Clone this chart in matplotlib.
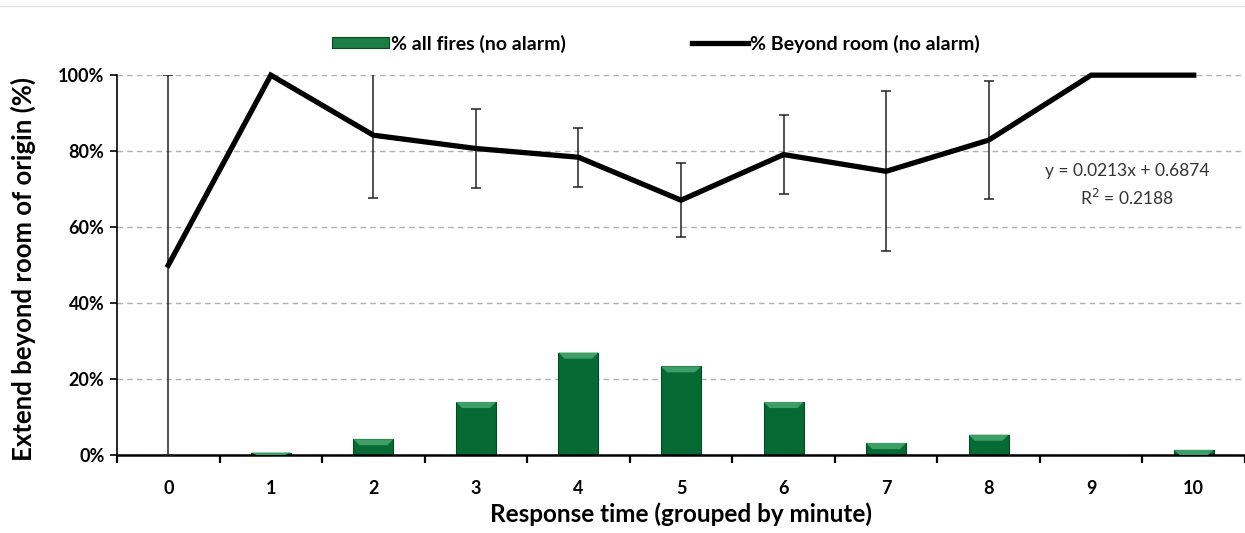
import matplotlib
matplotlib.use("Agg")
import matplotlib.pyplot as plt
from matplotlib.patches import Polygon, Patch
from matplotlib.lines import Line2D
from matplotlib.ticker import PercentFormatter, FixedLocator
import numpy as np

# data (percent)
minutes = list(range(11))
minute_labels = [str(m) for m in minutes]
all_fires = [0, 0.7, 4.2, 14.0, 27.0, 23.4, 14.0, 3.2, 5.4, 0, 1.4]
beyond_room = [50, 100, 84.2, 80.7, 78.4, 67.1, 79.1, 74.7, 82.9, 100, 100]
beyond_err = [50, 0, 16.4, 10.3, 7.8, 9.7, 10.5, 21.1, 15.6, 0, 0]
trend_text = "y = 0.0213x + 0.6874\nR$^2$ = 0.2188"

plt.rcParams['font.family'] = ['Lato', 'DejaVu Sans']

fig = plt.figure(figsize=(12.45, 5.33), dpi=100)
ax = fig.add_axes([0.094, 0.146, 0.906, 0.713])

x = np.array(minutes)
bars_v = np.array(all_fires) / 100
line_v = np.array(beyond_room) / 100
err_v = np.array(beyond_err) / 100

# bars with a light bevel on top
bw = 0.39
ax.bar(x, bars_v, width=bw, color='#066a35', edgecolor='#024a22', linewidth=0.8, zorder=2)
for xi, h in zip(x, bars_v):
    if h <= 0:
        continue
    d = min(h, 0.016)
    inset = 0.06
    poly = Polygon([[xi - bw / 2, h], [xi + bw / 2, h],
                    [xi + bw / 2 - inset, h - d], [xi - bw / 2 + inset, h - d]],
                   closed=True, facecolor='#3d9e66', edgecolor='none', zorder=3)
    ax.add_patch(poly)

# line with error bars
ax.plot(x, line_v, color='black', lw=3.8, solid_joinstyle='miter', zorder=5, clip_on=False)
has_err = err_v > 0
ax.errorbar(x[has_err], line_v[has_err], yerr=err_v[has_err], fmt='none',
            ecolor='#222222', elinewidth=1.1, capsize=3.8, capthick=1.1, zorder=4)

ax.set_xlim(-0.5, 10.5)
ax.set_ylim(0, 1.0)
ax.yaxis.set_major_locator(FixedLocator([0, 0.2, 0.4, 0.6, 0.8, 1.0]))
ax.yaxis.set_major_formatter(PercentFormatter(1.0, decimals=0))
ax.set_xticks(x)
ax.set_xticklabels(minute_labels)
ax.xaxis.set_minor_locator(FixedLocator(np.arange(-0.5, 10.6, 1)))
ax.tick_params(axis='x', which='major', length=0, pad=18, labelsize=13)
ax.tick_params(axis='x', which='minor', length=6, width=1.6, direction='out', color='black')
ax.tick_params(axis='y', which='major', length=5, width=1.2, labelsize=13, pad=4)
for lab in ax.get_xticklabels() + ax.get_yticklabels():
    lab.set_fontweight('bold')

ax.grid(axis='y', color='#b0b0b0', linestyle=(0, (4, 3)), linewidth=1.0, zorder=0)
ax.set_axisbelow(True)
for s in ['top', 'right']:
    ax.spines[s].set_visible(False)
ax.spines['bottom'].set_linewidth(1.8)
ax.spines['left'].set_linewidth(1.2)

ax.set_xlabel("Response time (grouped by minute)", fontsize=17.5, fontweight='bold', labelpad=4)
ax.set_ylabel("Extend beyond room of origin (%)", fontsize=18.5, fontweight='bold', labelpad=10)
ax.yaxis.set_label_coords(-0.072, 0.49)

ax.text(9.35, 0.71, trend_text, ha='center', va='center', fontsize=12.5,
        color='#333333', linespacing=1.5)

handles = [Patch(facecolor='#1d7d45', edgecolor='#024a22', linewidth=0.8),
           Line2D([0], [0], color='black', lw=3.8)]
fig.legend(handles, ["% all fires (no alarm)", "% Beyond room (no alarm)"],
           loc='center', bbox_to_anchor=(0.527, 0.918), ncol=2, frameon=False,
           handlelength=2.9, handleheight=0.5, handletextpad=0.1, columnspacing=6.5,
           prop={'size': 14, 'weight': 'bold'})

fig.add_artist(Line2D([0, 1], [0.988, 0.988], color='#e3e3e3', lw=1.0, transform=fig.transFigure))

fig.savefig("out.png", dpi=100, facecolor='white')
